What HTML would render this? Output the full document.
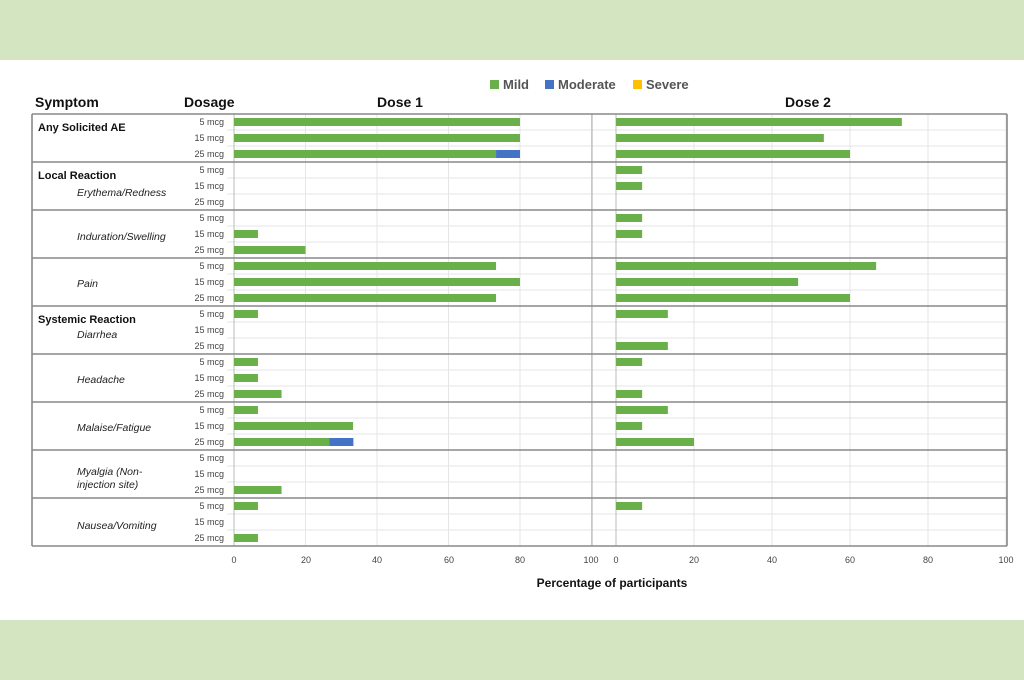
<!DOCTYPE html>
<html><head><meta charset="utf-8"><style>
html,body{margin:0;padding:0;width:1024px;height:680px;overflow:hidden;background:#fff}
svg{display:block;font-family:"Liberation Sans",sans-serif}
</style></head><body>
<svg id="s" width="1024" height="680" xmlns="http://www.w3.org/2000/svg">
<rect x="0" y="0" width="1024" height="60" fill="#d3e6c1"/>
<rect x="0" y="620" width="1024" height="60" fill="#d3e6c1"/>
<g id="grid"></g>
<g id="bars"></g>
<rect x="490" y="80" width="9" height="9" fill="#6ab04a"/><text x="503" y="89" font-size="13" font-weight="bold" fill="#555">Mild</text>
<rect x="545" y="80" width="9" height="9" fill="#4472c4"/><text x="558" y="89" font-size="13" font-weight="bold" fill="#555">Moderate</text>
<rect x="633" y="80" width="9" height="9" fill="#ffc000"/><text x="646" y="89" font-size="13" font-weight="bold" fill="#555">Severe</text>
<g font-size="14" font-weight="bold" fill="#111">
<text x="35" y="107">Symptom</text><text x="184" y="107">Dosage</text>
<text x="400" y="107" text-anchor="middle">Dose 1</text><text x="808" y="107" text-anchor="middle">Dose 2</text>
</g>
<g font-size="11" font-weight="bold" fill="#111">
<text x="38" y="131">Any Solicited AE</text>
<text x="38" y="179">Local Reaction</text>
<text x="38" y="323">Systemic Reaction</text>
</g>
<g font-size="10.5" font-style="italic" fill="#222">
<text x="77" y="196">Erythema/Redness</text>
<text x="77" y="240">Induration/Swelling</text>
<text x="77" y="287">Pain</text>
<text x="77" y="338">Diarrhea</text>
<text x="77" y="383">Headache</text>
<text x="77" y="431">Malaise/Fatigue</text>
<text x="77" y="475">Myalgia (Non-</text>
<text x="77" y="488">injection site)</text>
<text x="77" y="529">Nausea/Vomiting</text>
</g>
<g id="dl" font-size="9" fill="#444" text-anchor="end"></g>
<g font-size="9" fill="#444" text-anchor="middle">
<text x="234" y="563">0</text><text x="306" y="563">20</text><text x="377" y="563">40</text><text x="449" y="563">60</text><text x="520" y="563">80</text><text x="591" y="563">100</text>
<text x="616" y="563">0</text><text x="694" y="563">20</text><text x="772" y="563">40</text><text x="850" y="563">60</text><text x="928" y="563">80</text><text x="1006" y="563">100</text>
</g>
<text x="612" y="587" font-size="12" font-weight="bold" fill="#111" text-anchor="middle">Percentage of participants</text>
</svg>
<script>
var ns="http://www.w3.org/2000/svg";
function el(p,t,a){var e=document.createElementNS(ns,t);for(var k in a)e.setAttribute(k,a[k]);document.getElementById(p).appendChild(e);return e;}
// dosage labels
var ds=["5 mcg","15 mcg","25 mcg"];
for(var i=0;i<27;i++){var t=el("dl","text",{x:224,y:122+i*16+3});t.textContent=ds[i%3];}
// grid
for(var i=1;i<=5;i++){el("grid","line",{x1:234+i*71.5,x2:234+i*71.5,y1:114,y2:546,stroke:"#e6e6e6"});el("grid","line",{x1:616+i*78,x2:616+i*78,y1:114,y2:546,stroke:"#e6e6e6"});}
for(var i=0;i<27;i++){var y=130+i*16;if((i+1)%3)el("grid","line",{x1:227,x2:1006,y1:y,y2:y,stroke:"#e6e6e6"});}
el("grid","line",{x1:234,x2:234,y1:114,y2:546,stroke:"#bbb"});
el("grid","line",{x1:592,x2:592,y1:114,y2:546,stroke:"#aaa"});
el("grid","line",{x1:616,x2:616,y1:114,y2:546,stroke:"#bbb"});
for(var g=0;g<=9;g++){var y=114+g*48;el("grid","line",{x1:32,x2:1007,y1:y,y2:y,stroke:"#888","stroke-width":1.6});}
el("grid","line",{x1:32,x2:32,y1:114,y2:546,stroke:"#888","stroke-width":1.6});
el("grid","line",{x1:1007,x2:1007,y1:114,y2:546,stroke:"#888","stroke-width":1.6});
// data [green, blue]
var d1=[[80],[80],[73.3,6.7],[0],[0],[0],[0],[6.7],[20],[73.3],[80],[73.3],[6.7],[0],[0],[6.7],[6.7],[13.3],[6.7],[33.3],[26.7,6.7],[0],[0],[13.3],[6.7],[0],[6.7]];
var d2=[[73.3],[53.3],[60],[6.7],[6.7],[0],[6.7],[6.7],[0],[66.7],[46.7],[60],[13.3],[0],[13.3],[6.7],[0],[6.7],[13.3],[6.7],[20],[0],[0],[0],[6.7],[0],[0]];
function draw(d,x0,s){for(var i=0;i<27;i++){var y=118+i*16,g=d[i][0]||0,b=d[i][1]||0;
if(g)el("bars","rect",{x:x0,y:y,width:g*s,height:8,fill:"#6ab04a"});
if(b)el("bars","rect",{x:x0+g*s,y:y,width:b*s,height:8,fill:"#4472c4"});}}
draw(d1,234,3.575);draw(d2,616,3.9);
</script>
</body></html>
